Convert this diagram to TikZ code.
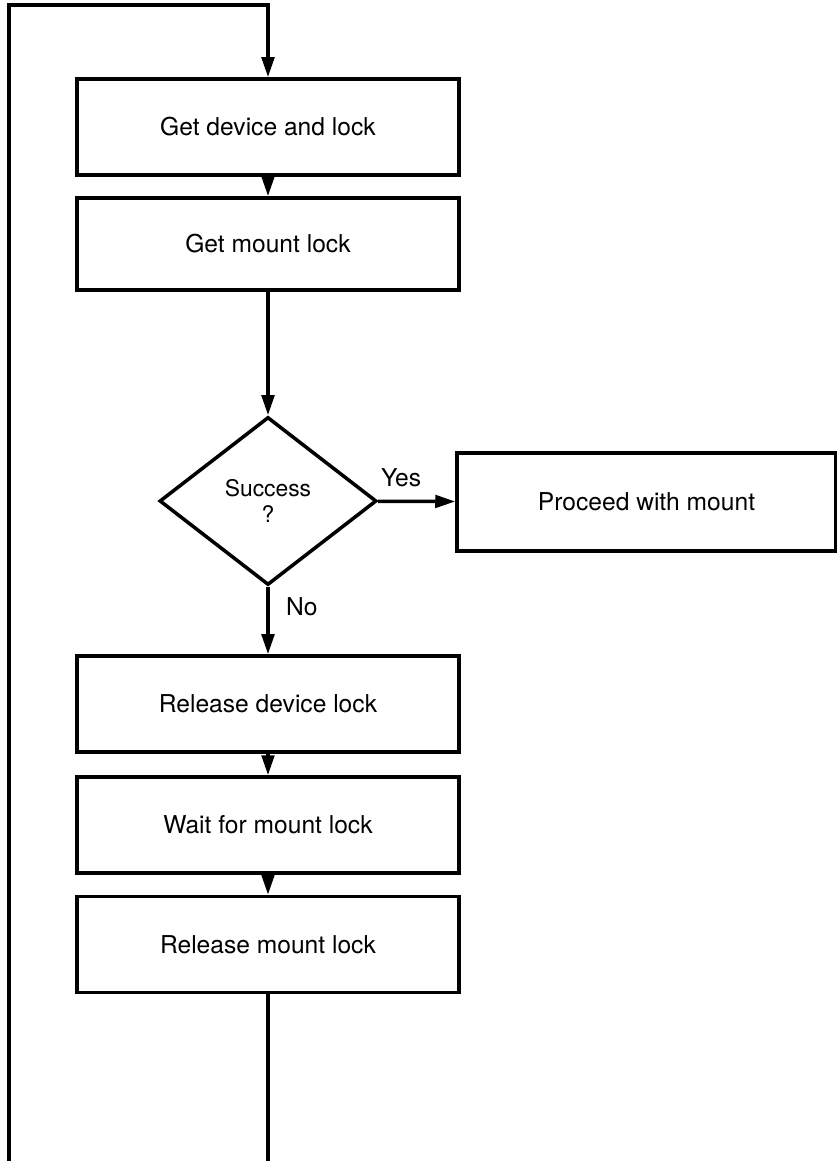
\documentclass[tikz,border=0pt]{standalone}
\usepackage{fontspec}
\setmainfont{TeX Gyre Heros}
\usetikzlibrary{positioning,arrows.meta,shapes.geometric}

\begin{document}
\begin{tikzpicture}[>={Triangle[length=4mm,width=2.5mm]},
  stepbox/.style={draw,line width=2pt,minimum width=7.64cm,minimum height=1.92cm,inner sep=0pt,font=\fontsize{14}{16}\selectfont},
  flow/.style={line width=2pt}]
\useasboundingbox (0,0) rectangle (16.72,-23.22);
\node[stepbox] (getdev) at (5.36,-2.54) {Get device and lock};
\node[stepbox,minimum height=1.84cm] (getmnt) at (5.36,-4.88) {Get mount lock};
\node[draw,diamond,line width=2pt,minimum width=4.34cm,minimum height=3.36cm,inner sep=0pt,align=center,font=\fontsize{13}{15}\selectfont] (ok) at (5.36,-10.02) {Success\\?};
\node[stepbox,minimum width=7.58cm,minimum height=1.96cm] (proceed) at (12.93,-10.04) {Proceed with mount};
\node[stepbox] (reldev) at (5.36,-14.08) {Release device lock};
\node[stepbox] (waitmnt) at (5.36,-16.5) {Wait for mount lock};
\node[stepbox] (relmnt) at (5.36,-18.89) {Release mount lock};
% loop back to the top
\coordinate (loopbot) at (0.18,-23.22);
\coordinate (looptop) at (0.18,-0.1);
\coordinate (loopin) at (5.36,-0.1);
\coordinate (exit) at (5.36,-23.22);
\draw[flow,->] (loopbot) -- (looptop) -- (loopin) -- (getdev);
\draw[flow,->] (getdev) -- (getmnt);
\draw[flow,->] (getmnt) -- (ok);
\draw[flow,->] (ok) -- (proceed) node[pos=0.3,above=4pt,font=\fontsize{14}{16}\selectfont]{Yes};
\draw[flow,->] (ok) -- (reldev) node[pos=0.3,right=6pt,font=\fontsize{14}{16}\selectfont]{No};
\draw[flow,->] (reldev) -- (waitmnt);
\draw[flow,->] (waitmnt) -- (relmnt);
\draw[flow] (relmnt) -- (exit);
\end{tikzpicture}
\end{document}
